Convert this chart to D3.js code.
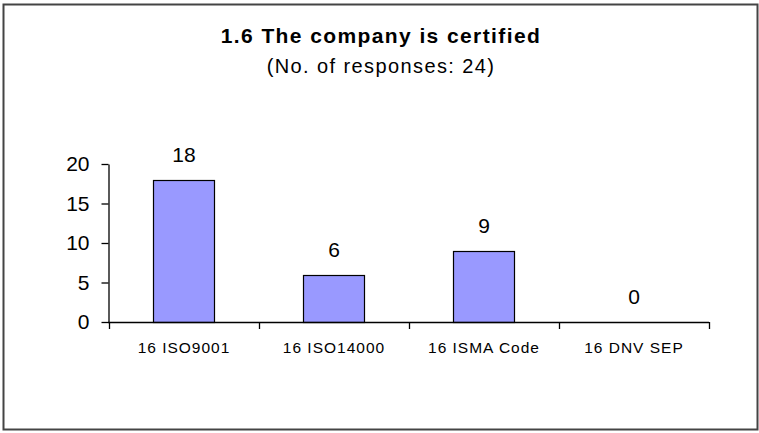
<!DOCTYPE html>
<html>
<head>
<meta charset="utf-8">
<script src="https://cdn.jsdelivr.net/npm/d3@7"></script>
<style>
  html, body { margin: 0; padding: 0; background: #fff; }
  svg { display: block; }
  text { font-family: Arial, "Liberation Sans", sans-serif; fill: #000; }
</style>
</head>
<body>
<svg id="chart" width="759" height="433"></svg>
<script>
const titleText = "1.6 The company is certified";
const subtitleText = "(No. of responses: 24)";
const categories = ["16 ISO9001", "16 ISO14000", "16 ISMA Code", "16 DNV SEP"];
const values = [18, 6, 9, 0];
const yTicks = [0, 5, 10, 15, 20];

const svg = d3.select("#chart");

// outer frame
svg.append("rect")
  .attr("x", 3.5).attr("y", 4.5).attr("width", 754).attr("height", 425)
  .attr("fill", "#fff").attr("stroke", "#444").attr("stroke-width", 2);

// titles
svg.append("text")
  .attr("x", 381).attr("y", 43)
  .attr("text-anchor", "middle")
  .style("font-size", "21px").style("font-weight", "bold")
  .style("letter-spacing", "1.4px")
  .text(titleText);
svg.append("text")
  .attr("x", 381).attr("y", 73)
  .attr("text-anchor", "middle")
  .style("font-size", "20px")
  .style("letter-spacing", "1.4px")
  .text(subtitleText);

const x = d3.scaleBand().domain(categories).range([109, 709])
  .paddingInner(0.593).paddingOuter(0.2965);
const y = d3.scaleLinear().domain([0, 20]).range([322, 164]);

// bars
svg.append("g").selectAll("rect").data(values).join("rect")
  .attr("x", (d, i) => Math.round(x(categories[i])) + 0.5)
  .attr("y", d => Math.round(y(d)) + 0.5)
  .attr("width", Math.round(x.bandwidth()))
  .attr("height", d => Math.round(y(0)) - Math.round(y(d)))
  .attr("fill", "#9999ff")
  .attr("stroke", "#000")
  .attr("stroke-width", 1.2)
  .style("display", d => d > 0 ? null : "none");

// value labels
svg.append("g").selectAll("text").data(values).join("text")
  .attr("x", (d, i) => x(categories[i]) + x.bandwidth() / 2)
  .attr("y", d => y(d) - 18)
  .attr("text-anchor", "middle")
  .style("font-size", "21px")
  .text(d => d);

// y axis
const yAxis = d3.axisLeft(y).tickValues(yTicks).tickSize(7).tickSizeOuter(0).tickPadding(12);
const gy = svg.append("g").attr("transform", "translate(108.5,0)").call(yAxis);
gy.select(".domain").attr("stroke", "#000").attr("stroke-width", 1.3);
gy.selectAll(".tick line").attr("stroke", "#000").attr("stroke-width", 1.3);
gy.selectAll(".tick text")
  .style("font-size", "21px").style("font-family", "Arial, 'Liberation Sans', sans-serif")
  .attr("fill", "#000");

// x axis (ticks at category boundaries)
const step = x.step();
const boundaries = [109].concat(categories.map((c, i) => 109 + step * (i + 1)));
const gx = svg.append("g");
gx.append("line")
  .attr("x1", 108).attr("x2", 709)
  .attr("y1", y(0) + 0.5).attr("y2", y(0) + 0.5)
  .attr("stroke", "#000").attr("stroke-width", 1.3);
gx.selectAll("line.tk").data(boundaries).join("line")
  .attr("class", "tk")
  .attr("x1", d => d + 0.5).attr("x2", d => d + 0.5)
  .attr("y1", y(0)).attr("y2", y(0) + 7)
  .attr("stroke", "#000").attr("stroke-width", 1.3);
gx.selectAll("text").data(categories).join("text")
  .attr("x", d => x(d) + x.bandwidth() / 2)
  .attr("y", 353)
  .attr("text-anchor", "middle")
  .style("font-size", "15.5px")
  .style("letter-spacing", "1px")
  .attr("fill", "#1a1a2a")
  .text(d => d);
</script>
</body>
</html>
